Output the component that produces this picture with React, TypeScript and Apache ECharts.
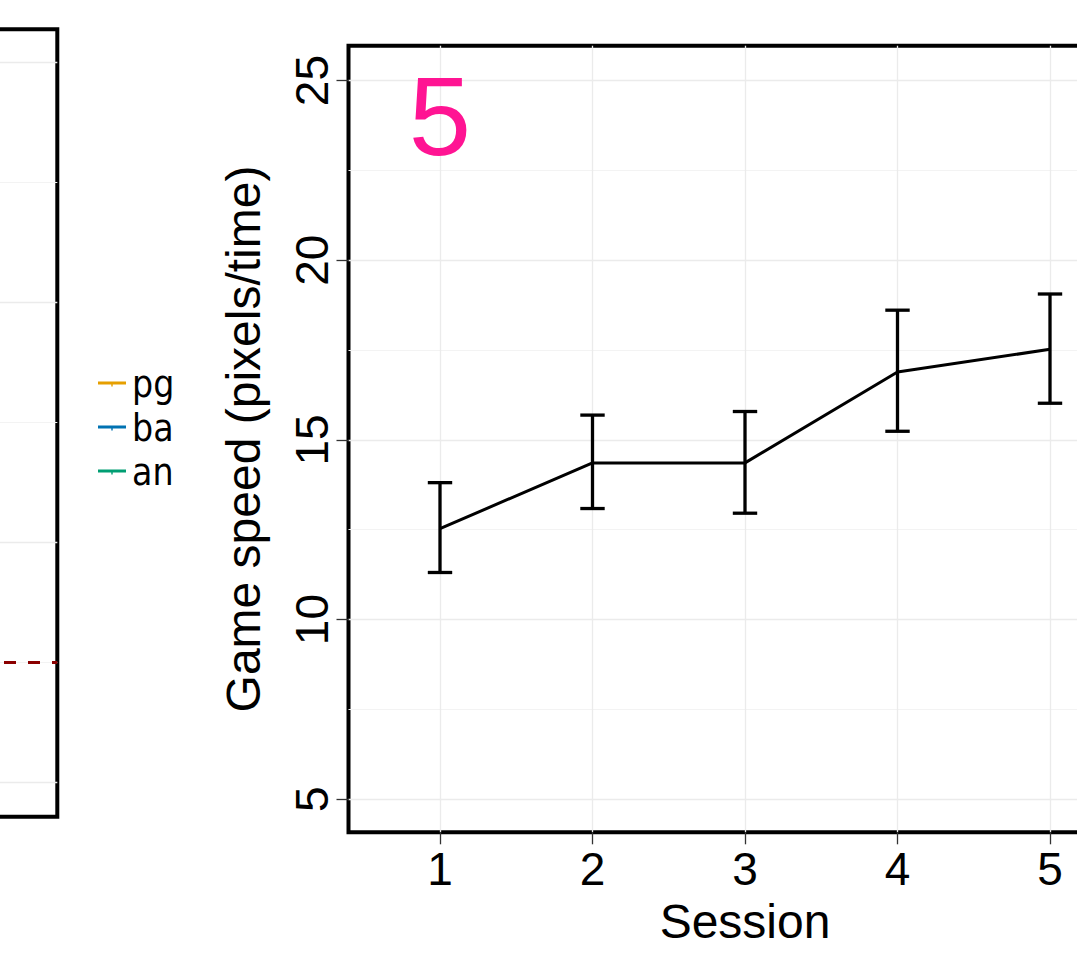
import React, { useEffect, useRef } from 'react';
import * as echarts from 'echarts';

// ---- data ----
const sessions = [1, 2, 3, 4, 5];
const speedMean = [12.53, 14.36, 14.36, 16.89, 17.52];
const speedLower = [11.31, 13.09, 12.96, 15.24, 16.02];
const speedUpper = [13.81, 15.69, 15.79, 18.61, 19.06];
const yTicks = [5, 10, 15, 20, 25];
const yMinorTicks = [7.5, 12.5, 17.5, 22.5];
const panelLabel = '5';
const panelLabelPoint = [1, 24];
const legendNames = ['pg', 'ba', 'an'];
const legendColors = ['#E69F00', '#0072B2', '#009E73'];
const leftTicks = [0, 1, 2, 3];
const leftMinorTicks = [0.5, 1.5, 2.5];
const leftRefLine = [0.5];

const FONT = '"Liberation Sans", Arial, sans-serif';
const GRID_MAJOR = '#EBEBEB';
const GRID_MINOR = '#F3F3F3';
// the figure is a crop of a wider canvas: the chart canvas extends past the page
const OFF = 600;
const EXTRA = 120;

export default function App() {
  const ref = useRef<HTMLDivElement>(null);
  useEffect(() => {
    if (!ref.current) return;
    const chart = echarts.init(ref.current, undefined, { renderer: 'svg' });

    const hiddenAxisBase = {
      axisLine: { show: false },
      axisLabel: { show: false },
    };

    const option: any = {
      animation: false,
      backgroundColor: '#fff',
      textStyle: { fontFamily: FONT },
      grid: [
        { left: OFF - 500, top: 29.3, width: 557.3, height: 787.4, show: true, borderColor: '#000', borderWidth: 4, containLabel: false },
        { left: OFF + 348.5, top: 45.7, width: 793, height: 786.6, show: true, borderColor: '#000', borderWidth: 4, containLabel: false },
      ],
      legend: {
        orient: 'vertical',
        left: OFF + 93,
        top: 359,
        itemWidth: 28,
        itemHeight: 5,
        itemGap: 4,
        icon: 'path://M0,0 L28,0 L28,3 L0,3 Z M13.3,3 L14.7,3 L14.7,5 L13.3,5 Z',
        data: legendNames,
        textStyle: { fontFamily: '"Liberation Sans Narrow", "DejaVu Sans Condensed", Arial, sans-serif', fontSize: 37, lineHeight: 40, color: '#000', padding: [0, 0, 0, 1] },
      },
      xAxis: [
        { gridIndex: 0, type: 'value', min: 0, max: 1, ...hiddenAxisBase, axisTick: { show: false }, splitLine: { show: false } },
        {
          gridIndex: 1, type: 'value', min: 0.4, max: 5.6,
          name: 'Session', nameLocation: 'middle', nameGap: 61,
          nameTextStyle: { fontFamily: FONT, fontSize: 48, color: '#000' },
          axisLine: { show: false },
          axisTick: { show: true, length: 12, customValues: sessions, lineStyle: { color: '#333', width: 1.3 } },
          axisLabel: { show: true, customValues: sessions, margin: 14, fontSize: 46, color: '#000', fontFamily: FONT },
          splitLine: { show: true, lineStyle: { color: GRID_MAJOR, width: 1.3 } },
        },
      ],
      yAxis: [
        { gridIndex: 0, type: 'value', min: -0.1417, max: 3.139, ...hiddenAxisBase, axisTick: { show: false, customValues: leftTicks }, splitLine: { show: true, lineStyle: { color: GRID_MAJOR, width: 1.3 } } },
        { gridIndex: 0, type: 'value', min: -0.1417, max: 3.139, ...hiddenAxisBase, axisTick: { show: false, customValues: leftMinorTicks }, splitLine: { show: true, lineStyle: { color: GRID_MINOR, width: 1 } } },
        {
          gridIndex: 1, type: 'value', min: 4.08, max: 25.97, position: 'left',
          name: 'Game speed (pixels/time)', nameLocation: 'middle', nameGap: 81,
          nameTextStyle: { fontFamily: FONT, fontSize: 48, color: '#000' },
          axisLine: { show: false },
          axisTick: { show: true, length: 12, customValues: yTicks, lineStyle: { color: '#333', width: 1.3 } },
          axisLabel: { show: true, customValues: yTicks, rotate: 90, margin: 14, fontSize: 46, color: '#000', fontFamily: FONT },
          splitLine: { show: true, lineStyle: { color: GRID_MAJOR, width: 1.3 } },
        },
        {
          gridIndex: 1, type: 'value', min: 4.08, max: 25.97, position: 'left',
          axisLine: { show: false }, axisLabel: { show: false },
          axisTick: { show: false, customValues: yMinorTicks },
          splitLine: { show: true, lineStyle: { color: GRID_MINOR, width: 1 } },
        },
      ],
      series: [
        ...legendNames.map((n, i) => ({
          name: n, type: 'line', xAxisIndex: 0, yAxisIndex: 0, data: [],
          itemStyle: { color: legendColors[i] }, lineStyle: { color: legendColors[i] },
        })),
        {
          name: 'ref', type: 'line', xAxisIndex: 0, yAxisIndex: 0, data: [],
          markLine: {
            silent: true, symbol: 'none', label: { show: false },
            lineStyle: { color: '#8B0000', width: 3, type: [12, 12] },
            data: leftRefLine.map((v) => ({ yAxis: v })),
          },
        },
        {
          name: 'errorbars', type: 'custom', xAxisIndex: 1, yAxisIndex: 2,
          data: sessions.map((s, i) => [s, speedLower[i], speedUpper[i]]),
          renderItem: (params: any, api: any) => {
            const x = api.value(0);
            const pLo = api.coord([x, api.value(1)]);
            const pHi = api.coord([x, api.value(2)]);
            const hw = api.size([0.16, 0])[0] / 2;
            const st = { stroke: '#000', lineWidth: 3.3 };
            return {
              type: 'group',
              children: [
                { type: 'line', shape: { x1: pLo[0], y1: pLo[1], x2: pHi[0], y2: pHi[1] }, style: st },
                { type: 'line', shape: { x1: pLo[0] - hw, y1: pLo[1], x2: pLo[0] + hw, y2: pLo[1] }, style: st },
                { type: 'line', shape: { x1: pHi[0] - hw, y1: pHi[1], x2: pHi[0] + hw, y2: pHi[1] }, style: st },
              ],
            };
          },
          z: 3,
        },
        {
          name: 'mean', type: 'line', xAxisIndex: 1, yAxisIndex: 2,
          data: sessions.map((s, i) => [s, speedMean[i]]),
          symbol: 'none', lineStyle: { color: '#000', width: 3 }, z: 4,
        },
        {
          name: 'panel', type: 'scatter', xAxisIndex: 1, yAxisIndex: 2,
          data: [panelLabelPoint],
          symbolSize: 1, itemStyle: { color: 'rgba(0,0,0,0)', opacity: 1 },
          label: { show: true, position: 'inside', formatter: () => panelLabel, fontSize: 112, color: '#FF1493', opacity: 1, textBorderWidth: 0, fontFamily: FONT },
          z: 5,
        },
      ],
    };
    chart.setOption(option);
    return () => chart.dispose();
  }, []);
  return (
    <div style={{ position: 'fixed', left: 0, top: 0, width: 1077, height: 954, overflow: 'hidden', background: '#fff' }}>
      <div ref={ref} style={{ position: 'absolute', left: -OFF, top: 0, width: OFF + 1077 + EXTRA, height: 954 }} />
    </div>
  );
}
